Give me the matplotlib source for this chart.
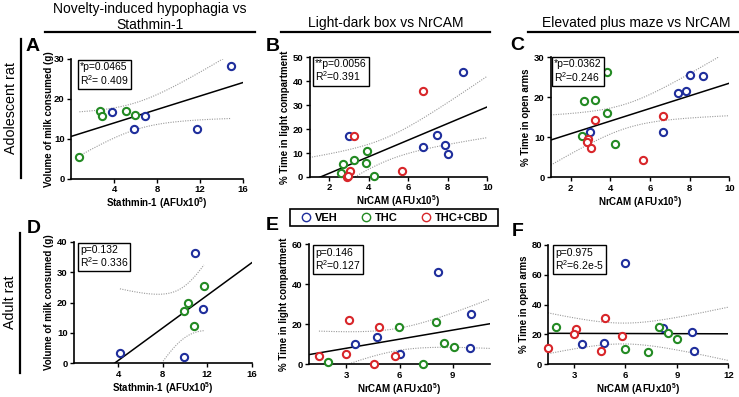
import numpy as np
import matplotlib
matplotlib.use("Agg")
import matplotlib.pyplot as plt
from matplotlib.lines import Line2D
from matplotlib.patches import Rectangle

plt.rcParams['font.family'] = ['Liberation Sans', 'DejaVu Sans']
plt.rcParams['mathtext.fontset'] = 'custom'
plt.rcParams['mathtext.rm'] = 'Liberation Sans'
plt.rcParams['mathtext.it'] = 'Liberation Sans:italic'
plt.rcParams['mathtext.bf'] = 'Liberation Sans:bold'

W, H = 739, 397
BLUE = '#1f2e9c'
GREEN = '#238a23'
RED = '#d8262a'

# ---- data (x in AFUx10^5) ----
# A: novelty-induced hypophagia vs stathmin-1, adolescent
a_veh_x = [14.84, 3.79, 5.82, 6.92, 11.71]
a_veh_y = [28.2, 16.6, 12.5, 15.75, 12.5]
a_thc_x = [0.78, 2.69, 2.9, 5.07, 5.95]
a_thc_y = [5.5, 17.0, 15.7, 17.0, 15.9]
a_cbd_x = []
a_cbd_y = []

# B: light-dark box vs NrCAM, adolescent
b_veh_x = [8.77, 3.0, 6.73, 7.46, 7.87, 8.0]
b_veh_y = [44.0, 17.3, 12.7, 17.7, 13.2, 9.6]
b_thc_x = [3.89, 3.26, 2.70, 3.86, 2.58, 4.24]
b_thc_y = [10.7, 7.0, 5.6, 5.7, 1.8, 0.6]
b_cbd_x = [6.75, 3.24, 3.04, 2.89, 2.93, 5.69]
b_cbd_y = [35.8, 17.3, 2.4, 0.1, 0.3, 2.6]

# C: elevated plus maze vs NrCAM, adolescent
c_veh_x = [8.0, 8.69, 7.81, 7.41, 6.68, 2.97]
c_veh_y = [25.6, 25.3, 21.7, 21.0, 11.3, 11.4]
c_thc_x = [3.85, 3.25, 2.69, 3.85, 2.55, 4.22]
c_thc_y = [26.3, 19.3, 19.0, 16.0, 10.3, 8.3]
c_cbd_x = [3.24, 6.67, 2.89, 2.84, 3.01, 5.65]
c_cbd_y = [14.3, 15.3, 9.7, 8.9, 7.4, 4.4]

# D: novelty-induced hypophagia vs stathmin-1, adult
d_veh_x = [10.9, 11.65, 4.15, 9.94]
d_veh_y = [36.2, 18.0, 3.3, 2.2]
d_thc_x = [11.7, 10.24, 9.91, 10.84]
d_thc_y = [25.4, 19.7, 17.1, 12.3]
d_cbd_x = []
d_cbd_y = []

# E: light-dark box vs NrCAM, adult
e_veh_x = [8.19, 10.03, 9.96, 3.51, 4.71, 6.04]
e_veh_y = [46.0, 25.3, 8.3, 10.0, 13.7, 5.2]
e_thc_x = [1.97, 5.96, 8.04, 8.51, 9.09, 7.31]
e_thc_y = [1.0, 18.8, 21.2, 10.5, 8.7, 0.0]
e_cbd_x = [1.46, 3.13, 4.82, 2.96, 4.57, 5.77]
e_cbd_y = [4.3, 22.0, 18.7, 5.3, 0.0, 4.2]

# F: elevated plus maze vs NrCAM, adult
f_veh_x = [6.0, 3.49, 4.72, 8.17, 9.9, 9.98]
f_veh_y = [67.8, 13.8, 14.1, 24.2, 21.5, 8.9]
f_thc_x = [1.97, 5.96, 7.29, 7.97, 8.48, 9.02]
f_thc_y = [25.0, 10.1, 8.5, 25.0, 21.0, 17.2]
f_cbd_x = [1.48, 3.14, 2.98, 4.82, 4.55, 5.81]
f_cbd_y = [11.1, 23.9, 20.1, 31.3, 9.1, 19.0]

stat_texts = [
    "*p=0.0465\nR$^2$= 0.409",
    "**p=0.0056\nR$^2$=0.391",
    "*p=0.0362\nR$^2$=0.246",
    "p=0.132\nR$^2$= 0.336",
    "p=0.146\nR$^2$=0.127",
    "p=0.975\nR$^2$=6.2e-5",
]
panel_letters = ['A', 'B', 'C', 'D', 'E', 'F']
col_titles = ["Novelty-induced hypophagia vs\nStathmin-1",
              "Light-dark box vs NrCAM",
              "Elevated plus maze vs NrCAM"]
row_titles = ["Adolescent rat", "Adult rat"]
group_labels = ['VEH', 'THC', 'THC+CBD']

X_STATH = "Stathmin-1 (AFUx10$^{\\mathbf{5}}$)"
X_NRCAM = "NrCAM (AFUx10$^{\\mathbf{5}}$)"
Y_MILK = "Volume of milk consumed (g)"
Y_LIGHT = "% Time in light compartment"
Y_OPEN = "% Time in open arms"

# two-sided 95% t critical values by degrees of freedom
T975 = {6: 2.447, 7: 2.365, 8: 2.306, 9: 2.262, 10: 2.228, 12: 2.179,
        14: 2.145, 16: 2.120, 18: 2.101, 20: 2.086}


def px_axes(fig, left, top, right, bottom):
    return fig.add_axes([left / W, 1 - bottom / H, (right - left) / W, (bottom - top) / H])


def fig_line(fig, x0, y0, x1, y1, lw=1.6):
    fig.add_artist(Line2D([x0 / W, x1 / W], [1 - y0 / H, 1 - y1 / H],
                          transform=fig.transFigure, color='black', lw=lw))


def draw_panel(fig, p):
    ax = px_axes(fig, *p['box'])
    groups = [(p['veh'], BLUE), (p['thc'], GREEN), (p['cbd'], RED)]
    xs, ys = [], []
    for (gx, gy), col in groups:
        xs += gx
        ys += gy

    xs = np.array(xs)
    ys = np.array(ys)
    slope, icpt = np.polyfit(xs, ys, 1)
    n = len(xs)
    resid = ys - (slope * xs + icpt)
    s = np.sqrt(np.sum(resid ** 2) / (n - 2))
    sxx = np.sum((xs - xs.mean()) ** 2)

    x0, x1 = p['xlim']
    xl = np.linspace(x0, x1, 200)
    ax.plot(xl, slope * xl + icpt, color='black', lw=1.1, zorder=2)

    # 95% confidence band of the fit
    b0 = xs.min() if p['band'][0] == 'data' else x0
    b1 = xs.max() if p['band'][1] == 'data' else x1
    xb = np.linspace(b0, b1, 200)
    half = T975[n - 2] * s * np.sqrt(1.0 / n + (xb - xs.mean()) ** 2 / sxx)
    yb = slope * xb + icpt
    ax.plot(xb, yb + half, color='#9a9a9a', lw=0.8, ls=(0, (1, 1.2)), zorder=1)
    ax.plot(xb, yb - half, color='#9a9a9a', lw=0.8, ls=(0, (1, 1.2)), zorder=1)

    for (gx, gy), col in groups:
        ax.plot(gx, gy, ls='', marker='o', ms=5.2, mfc='white', mec=col,
                mew=1.5, clip_on=False, zorder=3)

    ax.set_xlim(x0, x1)
    ax.set_ylim(*p['ylim'])
    ax.set_xticks(p['xticks'], [str(t) for t in p['xticks']], fontsize=6.8, fontweight='bold')
    ax.set_yticks(p['yticks'], [str(t) for t in p['yticks']], fontsize=6.8, fontweight='bold')
    ax.tick_params(length=3, width=1.0, pad=1.5)
    for side in ['top', 'right']:
        ax.spines[side].set_visible(False)
    for side in ['left', 'bottom']:
        ax.spines[side].set_linewidth(1.2)
    ax.set_xlabel(p['xlabel'], fontsize=7, fontweight='bold', labelpad=1)
    ax.set_ylabel(p['ylabel'], fontsize=7, fontweight='bold', labelpad=p.get('ypad', 2))

    bl, bt = p['statbox']
    fig.text((bl + 2.5) / W, 1 - (bt + 2.5) / H, p['stat'], fontsize=7.5,
             ha='left', va='top', linespacing=1.05,
             bbox=dict(boxstyle='square,pad=0.22', fc='white', ec='black', lw=1.0))
    lx, ly = p['letter_at']
    fig.text(lx / W, 1 - ly / H, p['letter'], fontsize=14, fontweight='bold',
             ha='center', va='center')
    return ax


def main():
    fig = plt.figure(figsize=(W / 100, H / 100), dpi=100)

    panels = [
        dict(veh=(a_veh_x, a_veh_y), thc=(a_thc_x, a_thc_y), cbd=(a_cbd_x, a_cbd_y),
             box=(71, 58.5, 243, 179), xlim=(0, 16), ylim=(0, 30),
             xticks=[4, 8, 12, 16], yticks=[0, 10, 20, 30], band=('data', 'data'),
             xlabel=X_STATH, ylabel=Y_MILK, statbox=(77.5, 60), letter_at=(33, 46.5),
             ypad=0),
        dict(veh=(b_veh_x, b_veh_y), thc=(b_thc_x, b_thc_y), cbd=(b_cbd_x, b_cbd_y),
             box=(309.5, 57.3, 487.3, 177), xlim=(1, 10), ylim=(0, 50),
             xticks=[2, 4, 6, 8, 10], yticks=[0, 10, 20, 30, 40, 50], band=('axis', 'axis'),
             xlabel=X_NRCAM, ylabel=Y_LIGHT, statbox=(312.7, 56.5), letter_at=(272.5, 46.5)),
        dict(veh=(c_veh_x, c_veh_y), thc=(c_thc_x, c_thc_y), cbd=(c_cbd_x, c_cbd_y),
             box=(550.8, 57.3, 729.3, 177.3), xlim=(1, 10), ylim=(0, 30),
             xticks=[2, 4, 6, 8, 10], yticks=[0, 10, 20, 30], band=('axis', 'axis'),
             xlabel=X_NRCAM, ylabel=Y_OPEN, statbox=(551.7, 56.7), letter_at=(517.5, 45)),
        dict(veh=(d_veh_x, d_veh_y), thc=(d_thc_x, d_thc_y), cbd=(d_cbd_x, d_cbd_y),
             box=(73.8, 241.7, 251.7, 363.3), xlim=(0, 16), ylim=(0, 40),
             xticks=[4, 8, 12, 16], yticks=[0, 10, 20, 30, 40], band=('data', 'data'),
             xlabel=X_STATH, ylabel=Y_MILK, statbox=(77.3, 242.3), letter_at=(34, 229)),
        dict(veh=(e_veh_x, e_veh_y), thc=(e_thc_x, e_thc_y), cbd=(e_cbd_x, e_cbd_y),
             box=(309, 244.3, 490, 364.3), xlim=(0.9, 11.1), ylim=(0, 60),
             xticks=[3, 6, 9], yticks=[0, 20, 40, 60], band=('data', 'axis'),
             xlabel=X_NRCAM, ylabel=Y_LIGHT, statbox=(312.7, 245), letter_at=(272, 226)),
        dict(veh=(f_veh_x, f_veh_y), thc=(f_thc_x, f_thc_y), cbd=(f_cbd_x, f_cbd_y),
             box=(548.3, 245, 728.3, 364.3), xlim=(1.5, 12), ylim=(0, 80),
             xticks=[3, 6, 9, 12], yticks=[0, 20, 40, 60, 80], band=('data', 'axis'),
             xlabel=X_NRCAM, ylabel=Y_OPEN, statbox=(552.3, 245), letter_at=(518, 231)),
    ]
    for i, p in enumerate(panels):
        p['stat'] = stat_texts[i]
        p['letter'] = panel_letters[i]
        draw_panel(fig, p)

    # column headers with rules underneath
    fig.text(150 / W, 1 - 17 / H, col_titles[0], fontsize=10, ha='center', va='center',
             linespacing=1.15)
    fig.text(386 / W, 1 - 23.5 / H, col_titles[1], fontsize=10, ha='center', va='center')
    fig.text(636 / W, 1 - 23.5 / H, col_titles[2], fontsize=10, ha='center', va='center')
    fig_line(fig, 45, 32.3, 255, 32.3)
    fig_line(fig, 281, 32.3, 490, 32.3)
    fig_line(fig, 528, 32.3, 739, 32.3)

    # row headers with vertical rules
    fig.text(11 / W, 1 - 108 / H, row_titles[0], fontsize=10.3, rotation=90,
             ha='center', va='center')
    fig.text(10 / W, 1 - 302.5 / H, row_titles[1], fontsize=10.3, rotation=90,
             ha='center', va='center')
    fig_line(fig, 21, 39, 21, 178)
    fig_line(fig, 20, 233, 20, 373)

    # shared legend
    handles = [Line2D([], [], ls='', marker='o', ms=6, mfc='none', mec=c, mew=1.0)
               for c in [BLUE, GREEN, RED]]
    fig.legend(handles, group_labels, loc='center', bbox_to_anchor=(395 / W, 1 - 217.5 / H),
               ncol=3, frameon=False, prop={'weight': 'bold', 'size': 8},
               handlelength=0.8, handletextpad=0.35, columnspacing=2.2, borderpad=0.1)
    fig.add_artist(Rectangle((290 / W, 1 - 226 / H), 208 / W, 17 / H, transform=fig.transFigure,
                             fill=False, ec='black', lw=1.2))

    fig.savefig('out.png', dpi=100)


if __name__ == "__main__":
    main()
